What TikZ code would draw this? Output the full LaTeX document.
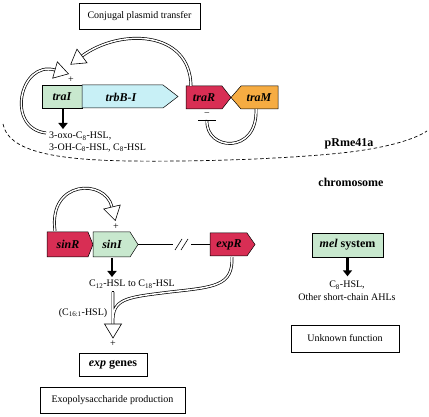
\documentclass[tikz,border=0pt]{standalone}
\usepackage{fontspec}
\setmainfont{Liberation Serif}
\usetikzlibrary{calc,arrows.meta}
\definecolor{gGreen}{RGB}{200,232,206}
\definecolor{gCyan}{RGB}{200,240,246}
\definecolor{gRed}{RGB}{216,46,84}
\definecolor{gOrange}{RGB}{246,172,66}
\newcommand\ohead[2]{\draw[fill=white,line width=0.6pt,line join=miter] ($(#2)!-14pt!(#1)$) -- ($(#2)!8.5pt!90:(#1)$) -- ($(#2)!8.5pt!-90:(#1)$) -- cycle;}
\newcommand\dblpath[1]{\draw[line width=2.9pt] #1; \draw[white,line width=1.5pt] #1;}
\tikzset{
  genebox/.style={draw=black,line width=0.5pt},
  glabel/.style={font=\fontsize{12}{14}\selectfont\bfseries\itshape,inner sep=0pt},
  txt/.style={font=\fontsize{10}{12}\selectfont,inner sep=0pt},
  btxt/.style={font=\fontsize{12}{14}\selectfont\bfseries,inner sep=0pt},
  framebox/.style={draw,line width=0.6pt,font=\fontsize{10}{12}\selectfont,inner sep=0pt},
  blkarrow/.style={line width=2.6pt,-{Triangle[length=6pt,width=9pt]}},
}
\begin{document}
\begin{tikzpicture}[x=1pt,y=-1pt]
\useasboundingbox (0,0) rectangle (429,417);

% ---- plasmid part ----
\node[framebox,minimum width=121pt,minimum height=26pt] (conj) at (139.5,16) {Conjugal plasmid transfer};

\draw[genebox,fill=gGreen] (42,85) rectangle (82,108);
\draw[genebox,fill=gCyan] (82,85) -- (163,85) -- (178,96.5) -- (163,108) -- (82,108) -- cycle;
\draw[genebox,fill=gRed] (186,86) -- (222,86) -- (231,97.5) -- (222,109) -- (186,109) -- cycle;
\draw[genebox,fill=gOrange] (231,97.5) -- (241,86) -- (278,86) -- (278,109) -- (241,109) -- cycle;
\node[glabel] (traI) at (62,97) {traI};
\node[glabel] (trbB) at (121,97) {trbB-I};
\node[glabel] (traR) at (204,97.5) {traR};
\node[glabel] (traM) at (259,97.5) {traM};
\node[txt] (plus1) at (71,80) {+};
\node[txt] (minus1) at (207,115) {−};

\coordinate (traRtop) at (191,86);
\coordinate (h1) at (82,56);
\coordinate (h1c) at (120,28);
\dblpath{(traRtop) .. controls (190,30) and (h1c) .. (h1)}
\ohead{h1c}{h1}

\coordinate (ahlstart) at (46,133);
\coordinate (h2) at (55,70);
\coordinate (h2c) at (20,60);
\dblpath{(ahlstart) .. controls (5,128) and (h2c) .. (h2)}
\ohead{h2c}{h2}

\coordinate (traMbot) at (256,109);
\coordinate (traRbar) at (207,120);
\dblpath{(traMbot) .. controls (258,155) and (205,151) .. (traRbar)}
\draw[line width=0.8pt] (198,120) -- (216,120);

\draw[blkarrow] (63,109) -- (63,129);
\node[txt,anchor=west] (ahl1) at (49,136) {3-oxo-C\textsubscript{8}-HSL,};
\node[txt,anchor=west] (ahl2) at (49,147.5) {3-OH-C\textsubscript{8}-HSL, C\textsubscript{8}-HSL};

\draw[line width=0.7pt,dash pattern=on 3.5pt off 2.5pt] (3,124) .. controls (8,150) and (50,160) .. (130,161) .. controls (210,162) and (300,158) .. (350,152) .. controls (390,147) and (415,139) .. (427,131);
\node[btxt] (prme) at (349,144) {pRme41a};
\node[btxt] (chrom) at (351,182) {chromosome};

% ---- chromosome part ----
\draw[genebox,fill=gRed] (47,232) -- (88,232) -- (93,244.5) -- (88,257) -- (47,257) -- cycle;
\draw[genebox,fill=gGreen] (93,232) -- (130,232) -- (138,244.5) -- (130,257) -- (93,257) -- cycle;
\draw[genebox,fill=gRed] (210,233) -- (247,233) -- (255,244.5) -- (247,256) -- (210,256) -- cycle;
\node[glabel] (sinR) at (68,244.5) {sinR};
\node[glabel] (sinI) at (112,244.5) {sinI};
\node[glabel] (expR) at (229,244.5) {expR};
\coordinate (sinItip) at (138,244.5);
\coordinate (expRleft) at (210,244.5);
\draw[line width=0.6pt] (sinItip) -- (173,244.5) (191,244.5) -- (expRleft);
\draw[line width=0.6pt] (175,250) -- (182,239) (181,250) -- (188,239);

\coordinate (sinRtop) at (55,231);
\coordinate (h3) at (112,207);
\coordinate (h3c) at (105,178);
\dblpath{(sinRtop) .. controls (48,180) and (h3c) .. (h3)}
\ohead{h3c}{h3}
\node[txt] (plus2) at (116,227) {+};

\draw[blkarrow] (112,258) -- (112,277);
\node[txt] (lhsl) at (132,284) {C\textsubscript{12}-HSL to C\textsubscript{18}-HSL};

\coordinate (shtop) at (113,292);
\coordinate (h4) at (113,324);
\coordinate (expRbot) at (232,257);
\draw[line width=2.9pt] (shtop) -- (h4) (expRbot) .. controls (233,286) and (215,287) .. (170,292) .. controls (130,297) and (114,298) .. (113,318);
\draw[white,line width=1.5pt] (112.9,291) -- (h4) (expRbot) .. controls (233,286) and (215,287) .. (170,292) .. controls (130,297) and (114,298) .. (113,318);
\draw[line width=0.6pt] (111.55,291.3) -- (114.45,291.3);
\ohead{shtop}{h4}
\node[txt] (c161) at (83,313) {(C\textsubscript{16:1}-HSL)};
\node[txt] (plus3) at (113,344) {+};

\node[framebox,minimum width=68pt,minimum height=23pt,font=\fontsize{12}{14}\selectfont\bfseries] (exp) at (113,364.5) {\textit{exp} genes};
\node[framebox,minimum width=145pt,minimum height=26pt] (eps) at (112.5,400) {Exopolysaccharide production};

\node[framebox,fill=gGreen,minimum width=71pt,minimum height=24pt,font=\fontsize{12}{14}\selectfont\bfseries] (mel) at (347.5,245) {\textit{mel} system};
\draw[blkarrow] (mel.south) -- ++(0,19);
\node[txt] (mel1) at (347,285) {C\textsubscript{8}-HSL,};
\node[txt] (mel2) at (347,297) {Other short-chain AHLs};
\node[framebox,minimum width=108pt,minimum height=27pt] (unk) at (345,338.5) {Unknown function};
\end{tikzpicture}
\end{document}
